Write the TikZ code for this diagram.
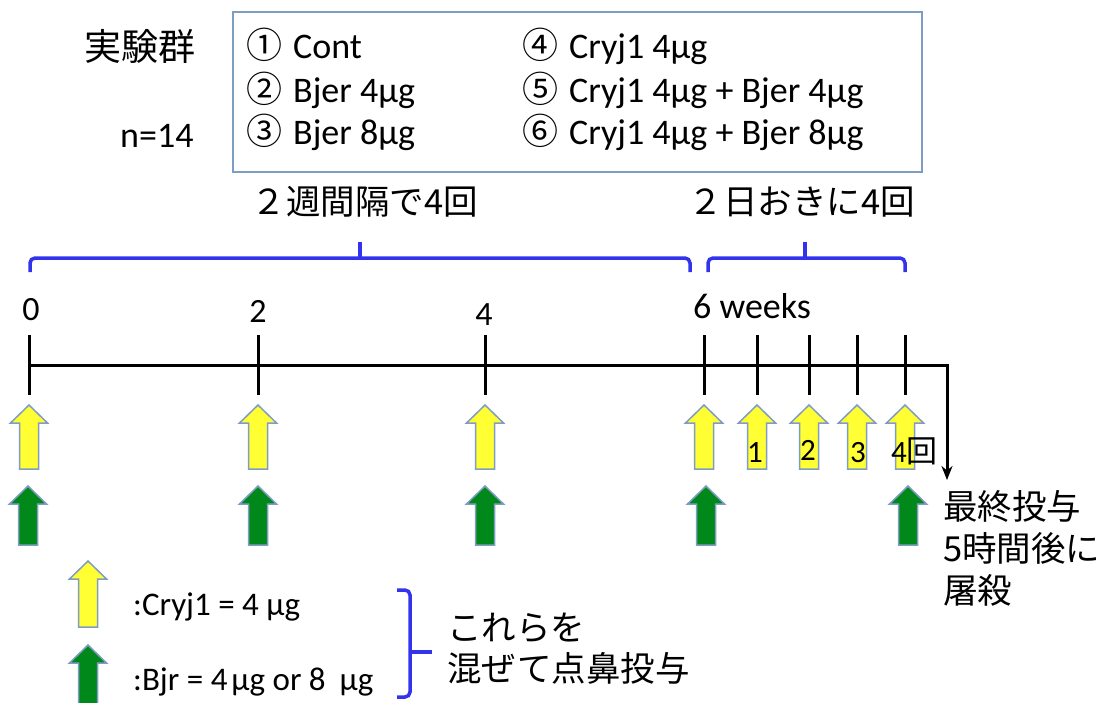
\documentclass[tikz,border=0pt]{standalone}
\usepackage{fontspec}
\setmainfont{Carlito}
\newfontfamily\jp{Noto Sans CJK JP}
\usetikzlibrary{arrows.meta}
\definecolor{arryellow}{HTML}{FFFF33}
\definecolor{arrgreen}{HTML}{00891A}
\definecolor{arrborder}{HTML}{7F9DC4}
\definecolor{bracecol}{HTML}{3333EE}
\definecolor{boxcol}{HTML}{7F9DC4}
\tikzset{
  uparr/.pic={\path[pic actions] (-9.5,0) -- (-9.5,-#1+18) -- (-18.5,-#1+18) -- (0,-#1) -- (18.5,-#1+18) -- (9.5,-#1+18) -- (9.5,0) -- cycle;},
  yarr/.style={fill=arryellow, draw=arrborder, line width=1.5pt},
  garr/.style={fill=arrgreen, draw=arrborder, line width=1.5pt},
  lat/.style={font=\fontsize{36}{42}\selectfont, inner sep=0pt},
  num/.style={font=\fontsize{34}{40}\selectfont, inner sep=0pt, anchor=base},
  jtx/.style={font=\fontsize{34.5}{42}\selectfont\jp, inner sep=0pt},
  bracestyle/.style={draw=bracecol, line width=3.5pt, rounded corners=5pt},
  tick/.style={line width=3pt},
}
\newcommand{\cnum}[1]{{\jp #1}\hspace{11pt}}
\begin{document}
\begin{tikzpicture}[x=1pt,y=-1pt]
\path[use as bounding box] (0,0) rectangle (1102,702);

% group box
\node[draw=boxcol, line width=1.5pt, minimum width=689pt, minimum height=160pt, inner sep=0pt] (grp) at (577.5,92) {};
\node[jtx, anchor=center, font=\fontsize{37}{42}\selectfont\jp] (jikken) at (140,46) {実験群};
\node[lat, anchor=base west] (n14) at (120,147) {n=14};
\node[lat, anchor=base west] (g1) at (246,58) {\cnum{①}Cont};
\node[lat, anchor=base west] (g2) at (246,102) {\cnum{②}Bjer 4µg};
\node[lat, anchor=base west] (g3) at (246,144) {\cnum{③}Bjer 8µg};
\node[lat, anchor=base west] (g4) at (522,58) {\cnum{④}Cryj1 4µg};
\node[lat, anchor=base west] (g5) at (522,102) {\cnum{⑤}Cryj1 4µg + Bjer 4µg};
\node[lat, anchor=base west] (g6) at (522,144) {\cnum{⑥}Cryj1 4µg + Bjer 8µg};

% brace titles
\node[jtx] (b1t) at (365,202) {２週間隔で4回};
\node[jtx] (b2t) at (802,202) {２日おきに4回};

% braces
\coordinate (b1l) at (30,272);
\coordinate (b1r) at (690,272);
\coordinate (b1m) at (360,242);
\draw[bracestyle] (b1l) -- (30,258) -- (690,258) -- (b1r);
\draw[draw=bracecol, line width=3.5pt] (360,258) -- (b1m);
\coordinate (b2l) at (708,272);
\coordinate (b2r) at (905,272);
\coordinate (b2m) at (805,242);
\draw[bracestyle] (b2l) -- (708,258) -- (905,258) -- (b2r);
\draw[draw=bracecol, line width=3.5pt] (805,258) -- (b2m);

% week labels
\node[num] (w0) at (31,320) {0};
\node[num] (w2) at (258,322) {2};
\node[num] (w4) at (484,325) {4};
\node[lat, anchor=base west] (w6) at (693,318) {6 weeks};

% timeline
\coordinate (tstart) at (29,365);
\coordinate (tend) at (947,365);
\coordinate (tdown) at (947,480);
\draw[line width=3pt, -{Stealth[length=14pt,width=11pt]}] (tstart) -- (tend) -- (tdown);
\foreach \x in {29,258,485,704,757,809,857,905}{
  \draw[tick] (\x,335) -- (\x,395);
}

% yellow arrows
\foreach \x in {29,258,485,704,757,809,857,905}{
  \pic[yarr] at (\x,469) {uparr=64};
}
% green arrows
\foreach \x in {28,258,485,706,908}{
  \pic[garr] at (\x,545) {uparr=59};
}

% day numbers
\node[num, font=\fontsize{31}{36}\selectfont] (d1) at (755,462) {1};
\node[num, font=\fontsize{31}{36}\selectfont] (d2) at (808,460) {2};
\node[num, font=\fontsize{31}{36}\selectfont] (d3) at (858,462) {3};
\node[num, anchor=base west, font=\fontsize{31}{36}\selectfont] (d4) at (891,462) {4{\jp 回}};

% final text
\node[jtx, anchor=west] (f1) at (943,506) {最終投与};
\node[jtx, anchor=west] (f2) at (943,548) {5時間後に};
\node[jtx, anchor=west] (f3) at (943,590) {屠殺};

% legend
\pic[yarr] at (88,627) {uparr=66};
\pic[garr] at (88,712) {uparr=67};
\node[lat, anchor=base west, font=\fontsize{33}{40}\selectfont] (lg1) at (133,615) {:Cryj1 = 4 µg};
\node[lat, anchor=base west, font=\fontsize{33}{40}\selectfont] (lg2) at (133,690) {:Bjr = 4\hspace{4pt}µg or 8\hspace{14pt}µg};

% right brace
\coordinate (rbt) at (397,590);
\coordinate (rbb) at (397,697);
\coordinate (rbm) at (432,652);
\draw[bracestyle] (rbt) -- (410,590) -- (410,697) -- (rbb);
\draw[draw=bracecol, line width=3.5pt] (410,652) -- (rbm);
\node[jtx, anchor=west] (mix1) at (447,628) {これらを};
\node[jtx, anchor=west] (mix2) at (447,668) {混ぜて点鼻投与};
\end{tikzpicture}
\end{document}
